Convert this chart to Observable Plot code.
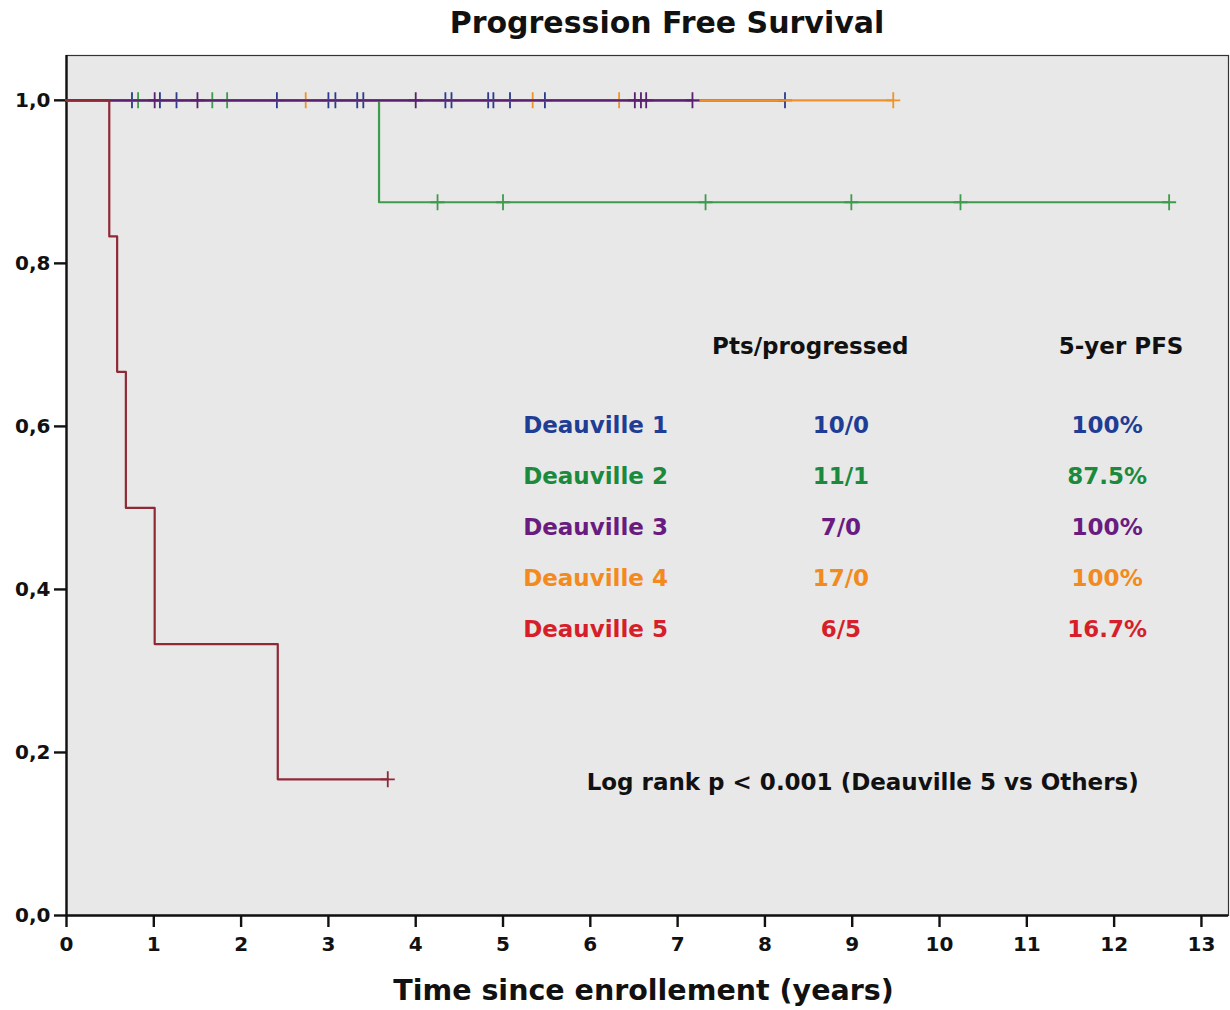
<!DOCTYPE html>
<html>
<head>
<meta charset="utf-8">
<script src="https://cdn.jsdelivr.net/npm/d3@7"></script>
<script src="https://cdn.jsdelivr.net/npm/@observablehq/plot@0.6"></script>
<style>
  body { margin: 0; background: #fff; }
  #title { width: 1230px; height: 48px; box-sizing: border-box; padding-left: 104px; text-align: center;
           font-family: "DejaVu Sans", sans-serif; font-weight: bold; font-size: 30px; line-height: 46px; color: #111; }
</style>
</head>
<body>
<div id="title">Progression Free Survival</div>
<div id="chart"></div>
<script>
// ---- data ----
const groups = ["Deauville 1", "Deauville 2", "Deauville 3", "Deauville 4", "Deauville 5"];
const ptsProgressed = ["10/0", "11/1", "7/0", "17/0", "6/5"];
const pfs5 = ["100%", "87.5%", "100%", "100%", "16.7%"];
const headerPts = "Pts/progressed";
const headerPfs = "5-yer PFS";
const logRank = "Log rank p < 0.001 (Deauville 5 vs Others)";
const xTicks = [0,1,2,3,4,5,6,7,8,9,10,11,12,13];
const yTicks = [0, 0.2, 0.4, 0.6, 0.8, 1.0];

// step curves: times where survival changes, and the survival value from that time on
const d1Times = [0, 8.23];             const d1Surv = [1, 1];
const d2Times = [0, 3.58, 12.63];      const d2Surv = [1, 0.875, 0.875];
const d3Times = [0, 7.17];             const d3Surv = [1, 1];
const d4Times = [0, 9.47];             const d4Surv = [1, 1];
const d5Times = [0, 0.49, 0.58, 0.68, 1.01, 2.42, 3.68];
const d5Surv  = [1, 0.833, 0.667, 0.5, 0.333, 0.167, 0.167];

// censored observations (times)
const d1Censor = [0.75, 1.07, 1.26, 2.41, 3.0, 3.08, 3.33, 3.40, 4.34, 4.41, 4.83, 4.89, 5.08, 5.48, 8.23];
const d2Censor = [0.82, 1.67, 1.84, 4.25, 5.0, 7.32, 8.99, 10.24, 12.63];
const d3Censor = [1.01, 1.50, 4.0, 6.51, 6.58, 6.64, 7.17];
const d4Censor = [2.74, 5.34, 6.33, 9.47];
const d5Censor = [3.68];

const lineColors = ["#2b3a8c", "#3f9b4c", "#5a1f6e", "#f0922c", "#8e2a36"];
const textColors = ["#1f3d94", "#1b8a3c", "#6a1b80", "#f28a1e", "#d61f2a"];

// ---- build tables ----
function curve(times, surv) { return times.map((t, i) => ({t, s: surv[i]})); }
function survAt(times, surv, t) {
  let s = surv[0];
  for (let i = 0; i < times.length; i++) if (times[i] <= t) s = surv[i];
  return s;
}
function censorPts(times, surv, cens) { return cens.map(t => ({t, s: survAt(times, surv, t)})); }

const series = [
  {times: d1Times, surv: d1Surv, cens: d1Censor},
  {times: d2Times, surv: d2Surv, cens: d2Censor},
  {times: d3Times, surv: d3Surv, cens: d3Censor},
  {times: d4Times, surv: d4Surv, cens: d4Censor},
  {times: d5Times, surv: d5Surv, cens: d5Censor}
];
const drawOrder = [1, 0, 3, 2, 4]; // green, navy, orange, purple, red

const plusSymbol = {
  draw(ctx) {
    const v = 8, h = 7;
    ctx.moveTo(0, -v); ctx.lineTo(0, v);
    ctx.moveTo(-h, 0); ctx.lineTo(h, 0);
  }
};

const curveMarks = [];
for (const i of drawOrder) {
  const s = series[i];
  curveMarks.push(Plot.line(curve(s.times, s.surv), {x: "t", y: "s", curve: "step-after", stroke: lineColors[i], strokeWidth: 2.2}));
  curveMarks.push(Plot.dot(censorPts(s.times, s.surv, s.cens), {x: "t", y: "s", symbol: plusSymbol, stroke: lineColors[i], strokeWidth: 1.8, fill: "none"}));
}

const fs = 23;
const rowY = i => 0.601 - i * 0.0625;
const legendMarks = [];
groups.forEach((g, i) => {
  legendMarks.push(Plot.text([g], {text: d => d, x: () => 6.06, y: () => rowY(i), fill: textColors[i], fontSize: fs, fontWeight: "bold"}));
  legendMarks.push(Plot.text([ptsProgressed[i]], {text: d => d, x: () => 8.87, y: () => rowY(i), fill: textColors[i], fontSize: fs, fontWeight: "bold"}));
  legendMarks.push(Plot.text([pfs5[i]], {text: d => d, x: () => 11.92, y: () => rowY(i), fill: textColors[i], fontSize: fs, fontWeight: "bold"}));
});
legendMarks.push(Plot.text([headerPts], {text: d => d, x: () => 8.52, y: () => 0.698, fill: "#111", fontSize: fs, fontWeight: "bold"}));
legendMarks.push(Plot.text([headerPfs], {text: d => d, x: () => 12.08, y: () => 0.698, fill: "#111", fontSize: fs, fontWeight: "bold"}));
legendMarks.push(Plot.text([logRank], {text: d => d, x: () => 9.12, y: () => 0.163, fill: "#111", fontSize: fs, fontWeight: "bold"}));

const chart = Plot.plot({
  width: 1230,
  height: 962,
  marginTop: 7,
  marginBottom: 95,
  marginLeft: 66,
  marginRight: 2,
  style: {fontFamily: "DejaVu Sans, sans-serif", background: "#fff", color: "#111"},
  x: {domain: [0, 13.31]},
  y: {domain: [0, 1.055]},
  marks: [
    Plot.frame({fill: "#e8e8e8", stroke: "#333", strokeWidth: 1.2}),
    Plot.axisX(xTicks, {tickSize: 12, tickPadding: 9, strokeWidth: 2.4, stroke: "#111", fontSize: 20, fontWeight: "bold", label: null, tickFormat: d => String(d)}),
    Plot.axisY(yTicks, {tickSize: 12, tickPadding: 4, strokeWidth: 2.4, stroke: "#111", fontSize: 20, fontWeight: "bold", label: null, tickFormat: d => d.toFixed(1).replace(".", ",")}),
    Plot.ruleX([0], {stroke: "#111", strokeWidth: 2.4}),
    Plot.ruleY([0], {stroke: "#111", strokeWidth: 2.4}),
    ...curveMarks,
    ...legendMarks,
    Plot.text(["Time since enrollement (years)"], {text: d => d, frameAnchor: "bottom", dy: 84, dx: -4, fontSize: 28.5, fontWeight: "bold", fill: "#111"})
  ]
});
document.getElementById("chart").appendChild(chart);
</script>
</body>
</html>
